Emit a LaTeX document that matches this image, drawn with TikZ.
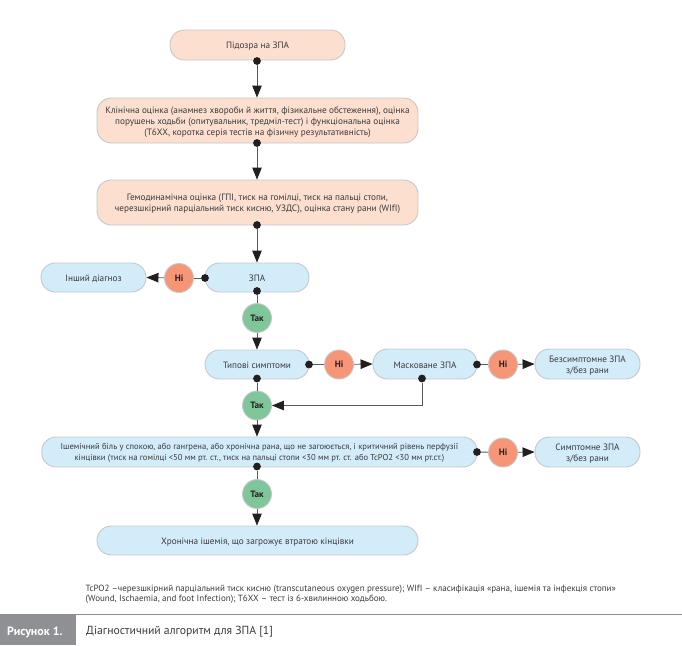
\documentclass[tikz,border=0pt]{standalone}
\usepackage{fontspec}
\setmainfont{PT Sans}
\usetikzlibrary{arrows.meta,positioning}
\definecolor{peach}{HTML}{FCDFCF}
\definecolor{sky}{HTML}{D2ECF9}
\definecolor{nored}{HTML}{F79677}
\definecolor{yesgreen}{HTML}{7FC79A}
\definecolor{edgegray}{HTML}{C6C8CA}
\definecolor{linegray}{HTML}{58595B}
\definecolor{inkdark}{HTML}{231F20}
\definecolor{txt}{HTML}{3A3A3C}
\definecolor{capgray}{HTML}{8E9093}
\tikzset{
  boxbase/.style={draw=edgegray,line width=0.9pt,rounded corners=14.4pt,align=center,inner sep=0pt,text=txt,font=\fontsize{9.2}{11}\selectfont,anchor=center},
  peachbox/.style={boxbase,fill=peach},
  skybox/.style={boxbase,fill=sky},
  answer/.style={circle,draw=edgegray,line width=0.9pt,minimum size=29pt,inner sep=0pt,font=\fontsize{9.2}{10}\selectfont\bfseries,text=inkdark},
  noans/.style={answer,fill=nored},
  yesans/.style={answer,fill=yesgreen},
  jdot/.style={circle,fill=inkdark,minimum size=7.8pt,inner sep=0pt},
  conn/.style={draw=linegray,line width=0.9pt},
  flow/.style={conn,-{Triangle[length=12pt,width=9.5pt,color=inkdark]}},
  note/.style={anchor=west,inner sep=0pt,text=txt,font=\fontsize{9}{9}\selectfont},
}
\newcommand{\bx}[6]{\node[#1,minimum width=#4pt,minimum height=#5pt] (#2) at (#3) {};
  \node[#1,draw=none,fill=none,yshift=-1.2pt] (#2t) at (#3) {#6};}
\begin{document}
\begin{tikzpicture}[x=1pt,y=-1pt]
\useasboundingbox (0,0) rectangle (682,645);
% boxes
\bx{peachbox}{suspect}{257.5,45}{175}{30}{Підозра на ЗПА}
\bx{peachbox}{clinical}{257.5,120.5}{321}{45}{Клінічна оцінка (анамнез хвороби й життя, фізикальне обстеження), оцінка\\порушень ходьби (опитувальник, тредміл-тест) і функціональна оцінка\\(Т6ХХ, коротка серія тестів на фізичну результативність)}
\bx{peachbox}{hemo}{257.5,202.5}{321}{45}{Гемодинамічна оцінка (ГПІ, тиск на гомілці, тиск на пальці стопи,\\черезшкірний парціальний тиск кисню, УЗДС), оцінка стану рани (WIfI)}
\bx{skybox}{zpa}{257,277.5}{104}{29}{ЗПА}
\bx{skybox}{other}{93.5,277.5}{105}{29}{Інший діагноз}
\bx{skybox}{typical}{257,364.5}{104}{29}{Типові симптоми}
\bx{skybox}{masked}{425,364}{104}{30}{Масковане ЗПА}
\bx{skybox}{asympt}{587.5,364}{105}{30}{Безсимптомне ЗПА\\з/без рани}
\bx{skybox,font=\fontsize{8.55}{11}\selectfont}{ischemic}{259.5,452}{435.5}{30}{Ішемічний біль у спокою, або гангрена, або хронічна рана, що не загоюється, і критичний рівень перфузії\\кінцівки (тиск на гомілці <50 мм рт. ст., тиск на пальці стопи <30 мм рт. ст. або TcPO2 <30 мм рт.ст.)}
\bx{skybox}{sympt}{587.5,452}{105}{30}{Симптомне ЗПА\\з/без рани}
\bx{skybox}{threat}{257.5,540.5}{321}{29}{Хронічна ішемія, що загрожує втратою кінцівки}
% answers
\node[noans] (no1) at (179,278) {Ні};
\node[noans] (no2) at (339,364.5) {Ні};
\node[noans] (no3) at (503,364.5) {Ні};
\node[noans] (no4) at (503,452.5) {Ні};
\node[yesans] (yes1) at (257,318) {Так};
\node[yesans] (yes2) at (257,405.5) {Так};
\node[yesans] (yes3) at (257,494) {Так};
% connectors
\node[jdot] (d1) at (257,61) {};
\node[jdot] (d2) at (257,143) {};
\node[jdot] (d3) at (257,225) {};
\node[jdot] (d4) at (205,278) {};
\node[jdot] (d5) at (257,291) {};
\node[jdot] (d6) at (309,364.5) {};
\node[jdot] (d7) at (477,364.5) {};
\node[jdot] (d8) at (257,378.5) {};
\node[jdot] (d9) at (422,378.5) {};
\node[jdot] (d10) at (477,452) {};
\node[jdot] (d11) at (257,466.5) {};
\coordinate (bend) at (422,405.5);
\draw[flow] (d1) -- (clinical.north -| d1);
\draw[flow] (d2) -- (hemo.north -| d2);
\draw[flow] (d3) -- (zpa.north);
\draw[conn] (d4) -- (no1);
\draw[flow] (no1) -- (other.east);
\draw[conn] (d5) -- (yes1);
\draw[flow] (yes1) -- (typical.north);
\draw[conn] (d6) -- (no2);
\draw[flow] (no2) -- (masked.west);
\draw[conn] (d7) -- (no3);
\draw[flow] (no3) -- (asympt.west);
\draw[conn] (d8) -- (yes2);
\draw[flow] (d9) -- (bend) -- (yes2);
\draw[flow] (yes2) -- (ischemic.north -| yes2);
\draw[conn] (d10) -- (no4);
\draw[flow] (no4) -- (sympt.west);
\draw[conn] (d11) -- (yes3);
\draw[flow] (yes3) -- (threat.north -| yes3);
% notes
\node[note] (n1) at (85.5,589) {TcPO2 –черезшкірний парціальний тиск кисню (transcutaneous oxygen pressure); WIfI – класифікація «рана, ішемія та інфекція стопи»};
\node[note] (n2) at (85.5,599.5) {(Wound, Ischaemia, and foot Infection); Т6ХХ – тест із 6-хвилинною ходьбою.};
% caption
\fill[capgray] (0,615) rectangle (76,645);
\draw[capgray,line width=0.9pt] (0,614.5) -- (682,614.5);
\node[anchor=west,inner sep=0pt,text=white,font=\fontsize{12}{12}\selectfont\bfseries] (capA) at (7,632) {Рисунок 1.};
\node[anchor=west,inner sep=0pt,text=txt,font=\fontsize{11.7}{12}\selectfont] (capB) at (86,632) {Діагностичний алгоритм для ЗПА [1]};
\end{tikzpicture}
\end{document}
